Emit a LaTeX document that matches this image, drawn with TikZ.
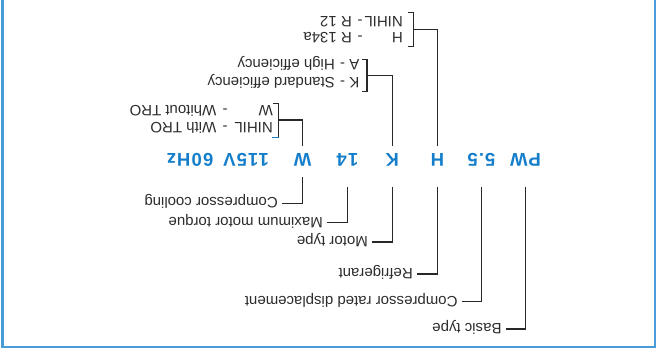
\documentclass[tikz,border=0pt]{standalone}
\usepackage{fontspec}
\setmainfont{Liberation Sans}
\newfontfamily\captionfont{Liberation Sans}
\newfontfamily\codefont[LetterSpace=6]{Liberation Sans Bold}
\usetikzlibrary{calc}
\definecolor{codeblue}{RGB}{20,126,202}
\definecolor{frameblue}{RGB}{72,157,216}
\definecolor{leadgray}{RGB}{40,40,40}
\definecolor{textgray}{RGB}{45,45,45}

\begin{document}
\begin{tikzpicture}[x=1pt,y=-1pt,
  lbl/.style={rotate=180, anchor=west, inner sep=0pt, text height=10.7pt, text depth=0pt,
              font=\captionfont\fontsize{15}{16}\selectfont, text=textgray},
  dashmark/.style={lbl, anchor=center},
  code/.style={rotate=180, anchor=base, inner sep=0pt,
               font=\codefont\fontsize{18.5}{20}\selectfont, text=codeblue},
  lead/.style={draw=leadgray, line width=1.2pt},
  frame/.style={draw=frameblue, line width=2.6pt}]

\useasboundingbox (0,0) rectangle (658,350);

% outer frame (open at the top edge)
\draw[frame] (2.5,0) -- (2.5,347) -- (655,347) -- (655,0);

% type designation code
\node[code] (pw)   at (525.5,153.3) {PW};
\node[code] (disp) at (481.5,153.3) {5.5};
\node[code] (ref)  at (437.5,153.3) {H};
\node[code] (mot)  at (392.3,153.3) {K};
\node[code] (trq)  at (347.5,153.3) {14};
\node[code] (cool) at (302.7,153.3) {W};
\node[code] (volt) at (246,153.3) {115V};
\node[code] (freq) at (190,153.3) {60Hz};

% lower captions
\node[lbl] (basic)   at (501.7,329)   {Basic type};
\node[lbl] (crd)     at (457.7,301.7) {Compressor rated displacement};
\node[lbl] (refrig)  at (413,274)     {Refrigerant};
\node[lbl] (mtype)   at (368,242)     {Motor type};
\node[lbl] (maxtrq)  at (323,222.7)   {Maximum motor torque};
\node[lbl] (ccool)   at (278,203.3)   {Compressor cooling};

\draw[lead] (pw.base   |- 0,186.5) |- ($(basic.west)+(4,0)$);
\draw[lead] (disp.base |- 0,186.5) |- ($(crd.west)+(4,0)$);
\draw[lead] (ref.base  |- 0,186.5) |- ($(refrig.west)+(4,0)$);
\draw[lead] (mot.base  |- 0,186.5) |- ($(mtype.west)+(4,0)$);
\draw[lead] (trq.base  |- 0,186.5) |- ($(maxtrq.west)+(4,0)$);
\draw[lead] (cool.base |- 0,176.5) |- ($(ccool.west)+(4,0)$);

% refrigerant options
\node[lbl]      (h1a) at (403,21.5) {NIHIL};
\node[dashmark] (h1b) at (360,21.5) {-};
\node[lbl]      (h1c) at (352,21.5) {R 12};
\node[lbl]      (h2a) at (403,37.5) {H};
\node[dashmark] (h2b) at (360,37.5) {-};
\node[lbl]      (h2c) at (352,37.5) {R 134a};
\coordinate (hbrk) at (413.3,29.5);
\draw[lead] (407.5,12.7) -- (413.3,12.7) -- (413.3,46.7) -- (407.5,46.7);
\draw[lead] (ref.base |- 0,145.5) |- (hbrk);

% motor type options
\node[lbl]      (k1a) at (359.5,65) {A};
\node[dashmark] (k1b) at (342.5,65) {-};
\node[lbl]      (k1c) at (335,65)   {High efficiency};
\node[lbl]      (k2a) at (359.5,82.5) {K};
\node[dashmark] (k2b) at (342.5,82.5) {-};
\node[lbl]      (k2c) at (335,82.5)   {Standard efficiency};
\coordinate (kbrk) at (367,75.5);
\draw[lead] (361.5,59.5) -- (367,59.5) -- (367,91.5) -- (361.5,91.5);
\draw[lead] (mot.base |- 0,145.5) |- (kbrk);

% compressor cooling options
\node[lbl]      (w1a) at (273,111) {W};
\node[dashmark] (w1b) at (225,111) {-};
\node[lbl]      (w1c) at (216.5,111) {Whitout TRO};
\node[lbl]      (w2a) at (273,128.3) {NIHIL};
\node[dashmark] (w2b) at (225,128.3) {-};
\node[lbl]      (w2c) at (216.5,128.3) {With TRO};
\coordinate (wbrk) at (278.3,120);
\draw[lead] (272.5,103.5) -- (278.3,103.5) -- (278.3,137.5);
\draw[draw=codeblue, line width=1.2pt] (278.9,137.5) -- (272,137.5);
\draw[lead] (cool.base |- 0,145.5) |- (wbrk);

\end{tikzpicture}
\end{document}
